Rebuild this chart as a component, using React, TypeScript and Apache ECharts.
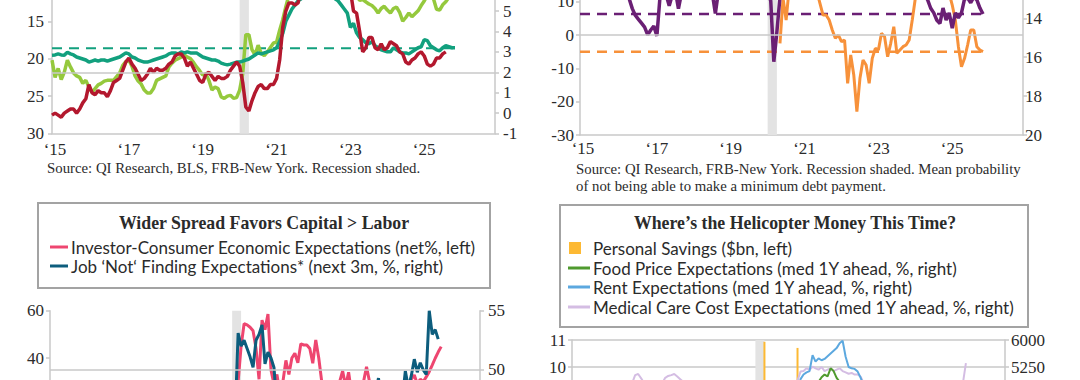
import React, { useEffect, useRef } from "react";
import * as echarts from "echarts";

// ---------- shared ----------
const xTickLabels = ["\u201815", "\u201817", "\u201819", "\u201821", "\u201823", "\u201825"];
const recession = [5.083, 5.333]; // years since Jan 2015 (Feb-Apr 2020)

// visible tick labels of each value axis (the rest of each panel is cropped away)
const p1LeftTicks = [15, 20, 25, 30];
const p1RightTicks = [-1, 0, 1, 2, 3, 4, 5];
const p2LeftTicks = [-30, -20, -10, 0, 10];
const p2RightTicks = [14, 16, 18, 20];
const p3LeftTicks = [40, 60];
const p3RightTicks = [50, 55];
const p4LeftTicks = [10, 11];
const p4RightTicks = [5250, 6000];

// ---------- panel 1 (top-left) ----------
const cpiStart = 0;
const cpiYoY = [
  -0.1, 0.0, -0.1, -0.2, 0.0, 0.1, 0.2, 0.2, 0.0, 0.2, 0.5, 0.7,
  1.4, 1.0, 0.9, 1.1, 1.0, 1.0, 0.8, 1.1, 1.5, 1.6, 1.7, 2.1,
  2.5, 2.7, 2.4, 2.2, 1.9, 1.6, 1.7, 1.9, 2.2, 2.0, 2.2, 2.1,
  2.1, 2.2, 2.4, 2.5, 2.8, 2.9, 2.9, 2.7, 2.3, 2.5, 2.2, 1.9,
  1.6, 1.5, 1.9, 2.0, 1.8, 1.6, 1.8, 1.7, 1.7, 1.8, 2.1, 2.3,
  2.5, 2.3, 1.5, 0.3, 0.1, 0.6, 1.0, 1.3, 1.4, 1.2, 1.2, 1.4,
  1.4, 1.7, 2.6, 4.2, 5.0, 5.4, 5.4, 5.3, 5.4, 6.2, 6.8, 7.0,
  7.5, 7.9, 8.5, 8.3, 8.6, 9.1, 8.5, 8.3, 8.2, 7.7, 7.1, 6.5,
  6.4, 6.0, 5.0, 4.9, 4.0, 3.0, 3.2, 3.7, 3.7, 3.2, 3.1, 3.4,
  3.1, 3.2, 3.5, 3.4, 3.3, 3.0, 2.9, 2.5, 2.4, 2.6, 2.7, 2.9,
  3.0, 2.8, 2.4, 2.3, 2.4, 2.7, 2.7, 2.9, 3.0,
];
const tealStart = 0;
const tealSeries = [
  2.84, 2.85, 2.9, 2.85, 2.84, 2.98, 2.9, 2.85, 2.75, 2.7, 2.65, 2.6,
  2.5, 2.55, 2.6, 2.55, 2.6, 2.6, 2.55, 2.6, 2.65, 2.7, 2.75, 2.85,
  2.95, 2.9, 2.75, 2.7, 2.6, 2.55, 2.5, 2.5, 2.55, 2.6, 2.65, 2.7,
  2.75, 2.8, 2.9, 2.95, 2.95, 2.9, 3.0, 2.95, 3.0, 2.95, 2.95, 2.95,
  2.85, 2.75, 2.7, 2.65, 2.6, 2.6, 2.55, 2.45, 2.4, 2.36, 2.4, 2.45,
  2.5, 2.5, 2.55, 2.6, 2.65, 2.75, 2.85, 2.95, 2.9, 2.95, 3.0, 3.05,
  3.1, 3.2, 3.5, 3.9, 4.5, 4.8, 5.1, 5.3, 5.5, 5.6, 5.9, 6.0,
  6.0, 6.0, 6.6, 6.3, 6.6, 6.8, 6.2, 5.9, 5.6, 5.5, 5.3, 5.1,
  4.9, 4.2, 4.4, 3.93, 3.7, 3.6, 3.45, 3.4, 3.5, 3.3, 3.2, 3.1,
  3.05, 3.0, 3.0, 3.2, 3.1, 3.0, 2.95, 2.95, 2.9, 3.0, 3.1, 3.2,
  3.25, 3.6, 3.55, 3.3, 3.2, 3.1, 3.05, 3.2, 3.3, 3.25, 3.2, 3.2,
];
const greenStart = 0;
const greenSeries = [
  20.2, 22.5, 21.3, 22.8, 21.8, 20.2, 21.1, 21.9, 22.3, 22.5, 23.3, 22.9,
  23.8, 24.5, 24.0, 23.5, 23.3, 23.0, 22.9, 22.9, 22.9, 22.4, 21.9, 20.9,
  20.4, 20.2, 21.0, 22.3, 23.0, 23.4, 24.2, 24.6, 24.6, 24.0, 22.9, 22.7,
  22.5, 22.3, 21.1, 20.6, 20.2, 20.0, 19.8, 19.5, 19.8, 20.0, 20.5, 21.1,
  21.6, 22.2, 22.0, 22.9, 24.2, 23.8, 24.0, 25.1, 25.3, 25.0, 24.9, 25.3,
  25.2, 24.2, 22.0, 16.8, 16.8, 18.8, 19.5, 18.2, 19.3, 19.6, 19.1, 18.5,
  17.9, 17.8, 16.2, 14.8, 13.1, 11.5, 10.2, 9.5, 9.0, 8.6, 8.2, 8.8,
  8.0, 7.5, 7.8, 8.3, 7.6, 8.0, 8.5, 9.0, 8.7, 9.3, 9.8, 10.0,
  10.5, 10.8, 11.2, 11.6, 12.2, 12.1, 12.4, 12.7, 12.9, 13.3, 13.9, 13.3,
  13.0, 13.5, 13.9, 13.3, 13.1, 13.8, 15.0, 14.5, 13.9, 14.4, 14.0, 13.6,
  12.9, 12.3, 11.5, 11.6, 12.0, 13.4, 13.5, 12.8, 12.4, 11.8,
];
const tealAverage = 3.18;
const fedTarget = 2;

// ---------- panel 2 (top-right) ----------
const purpleStart = 0;
const purpleSeries = [
  12.6, 12.8, 12.5, 12.9, 12.7, 12.4, 12.8, 12.6, 12.9, 12.5, 12.7, 12.8,
  12.6, 12.9, 12.7, 12.8, 13.0, 13.5, 13.85, 14.05, 14.25, 14.45, 14.85, 14.6,
  14.4, 14.9, 12.9, 12.7, 12.8, 13.35, 12.8, 12.6, 13.5, 12.7, 12.5, 12.6,
  12.4, 12.7, 12.5, 12.6, 12.3, 12.5, 12.6, 12.7, 13.75, 12.6, 12.4, 12.3,
  12.5, 12.2, 12.4, 12.3, 12.1, 12.4, 12.2, 12.3, 12.0, 12.2, 12.3, 12.1,
  12.4, 12.6, 13.1, 16.23, 14.7, 12.9, 12.2, 11.8, 11.5, 11.6, 11.3, 11.5,
  11.2, 11.0, 10.8, 10.9, 10.6, 10.8, 10.5, 10.7, 10.9, 10.6, 10.8, 11.0,
  10.9, 11.2, 11.0, 11.3, 11.4, 11.2, 11.5, 11.3, 11.6, 11.8, 11.5, 11.7,
  11.9, 11.6, 11.8, 12.0, 11.9, 12.1, 12.3, 12.0, 12.2, 12.4, 12.3, 12.5,
  12.7, 12.5, 12.7, 12.9, 12.8, 13.05, 13.48, 13.72, 14.1, 14.26, 13.47, 14.09,
  13.72, 14.51, 13.72, 13.98, 13.72, 13.0, 12.95, 13.2, 12.9, 13.05, 13.47, 13.78,
];
const orangeStart = 65;
const orangeSeries = [
  -2.5, 11, 4.5, 14, 16, 15, 17, 18, 16, 19, 17, 15, 13,
  9.5, 6, 6, 4.5, 1.5, -1, 0, -2, -1.5, -14.5, -6, -12,
  -23, -13, -7.5, -9, -14.5, -7, -4, -4.5, 0.5, -0.5, -6.5, -2.5,
  2.5, -5.5, -4.5, -3.5, -3, -1.5, 4.5, 11, 14, 13, 15, 16,
  14, 17, 15, 16, 14, 13, 12.5, 9, 4.5, -3.5, -9.5, -7, -3,
  1.5, 1.5, -3.5, -4.5, -5,
];
const purpleAverage = 13.78;
const orangeAverage = -5.0;

// ---------- panel 3 (bottom-left) ----------
const pinkStart = 63;
const pinkSeries = [
  30, 45, 54.5, 54, 53, 51.5, 44, 31, 56, 52, 58.6, 35, 29,
  33, 25, 30, 39, 33, 40, 42, 38, 46, 45.5, 45.5, 44, 37.8,
  47.6, 40, 30, 22, 18, 22, 24, 26, 30, 34.5, 28, 34, 25,
  28, 24, 26, 30, 36.3, 30, 25, 22, 20, 24, 26, 22, 25,
  27, 24, 26, 28, 27, 28, 31, 32.8, 29, 31, 30, 32, 34.2,
  37, 39.9, 42.5, 44.8,
];
const jobStart = 62;
const jobSeries = [
  46, 53.1, 52.0, 52.5, 51.8, 51.1, 50.2, 52.5, 53.0, 53.8, 50.5, 51.5,
  51.0, 50.2, 47, 46, 47, 45.5, 46, 45, 44.5, 45, 44, 45,
  44.5, 44, 45, 44.5, 45, 44, 44.5, 45, 44, 45.5, 45, 46,
  45.5, 46, 45, 46.5, 46, 47, 46.5, 47, 46, 47.5, 47, 48,
  49.3, 47.5, 48, 47, 48, 47.5, 48.5, 48, 47.5, 49.9, 48.5, 49.5,
  50.9, 49.8, 50.6, 50.0, 49.6, 55.0, 53.0, 53.4, 52.6,
];
const jobRefLine = 50;

// ---------- panel 4 (bottom-right) ----------
const savingsStart = 0;
const savingsSeries = [
  900, 920, 880, 910, 930, 900, 920, 940, 910, 930, 950, 960,
  980, 960, 950, 940, 920, 910, 900, 890, 880, 870, 880, 900,
  920, 940, 960, 950, 940, 930, 920, 910, 900, 920, 940, 950,
  1100, 1150, 1120, 1130, 1150, 1160, 1180, 1170, 1150, 1160, 1180, 1220,
  1250, 1260, 1280, 1230, 1240, 1250, 1220, 1200, 1230, 1250, 1270, 1300,
  1350, 1450, 2300, 5950, 4400, 3600, 3300, 2700, 2500, 2300, 2200, 2500,
  3900, 2500, 5780, 2700, 2300, 2000, 2100, 1800, 1600, 1400, 1500, 1300,
  900, 850, 800, 750, 700, 650, 680, 700, 650, 620, 650, 700,
  900, 920, 950, 970, 950, 900, 880, 850, 800, 850, 870, 880,
  900, 920, 880, 850, 870, 900, 920, 950, 970, 1000, 1020, 1010,
  1030, 1050, 1080, 1060, 1040, 1020, 1000, 990, 1000,
];
const foodStart = 0;
const foodSeries = [
  5.0, 4.9, 5.1, 5.2, 5.0, 4.8, 5.1, 5.0, 4.9, 5.2, 5.0, 5.1,
  5.0, 4.8, 4.9, 5.1, 5.0, 4.9, 5.2, 5.0, 4.8, 5.0, 5.1, 4.9,
  5.1, 5.0, 4.9, 5.2, 5.0, 5.1, 4.9, 5.0, 5.2, 5.1, 4.9, 5.0,
  5.2, 5.1, 5.0, 5.3, 5.1, 5.0, 5.2, 5.1, 5.0, 5.1, 5.2, 5.0,
  5.1, 5.0, 4.9, 5.1, 5.0, 5.2, 5.1, 5.0, 4.9, 5.1, 5.0, 5.1,
  5.0, 5.2, 5.6, 6.3, 6.0, 5.8, 5.7, 5.6, 5.8, 5.9, 6.0, 6.2,
  6.5, 6.8, 7.2, 7.8, 8.2, 8.6, 8.8, 9.0, 9.1, 9.3, 9.45, 9.62,
  9.72, 9.65, 9.95, 9.85, 9.6, 9.45, 9.2, 9.0, 8.7, 8.5, 8.2, 8.0,
  7.8, 7.6, 7.4, 7.2, 7.0, 6.9, 6.8, 6.6, 6.5, 6.4, 6.3, 6.2,
  6.1, 6.0, 6.1, 5.9, 6.0, 5.8, 5.9, 6.0, 5.8, 5.9, 6.0, 5.8,
  5.9, 6.1, 6.0, 6.2, 6.1, 6.3, 6.2, 6.4, 6.3, 6.5, 6.4, 6.6,
];
const rentStart = 0;
const rentSeries = [
  6.8, 7.0, 6.9, 7.2, 7.1, 6.9, 7.0, 7.3, 7.1, 7.0, 7.2, 7.1,
  7.0, 7.2, 7.1, 7.3, 7.0, 6.9, 7.1, 7.2, 7.0, 7.1, 7.3, 7.2,
  7.1, 7.0, 7.2, 7.3, 7.1, 7.0, 7.2, 7.4, 7.1, 7.2, 7.0, 7.1,
  7.3, 7.2, 7.0, 7.1, 7.2, 7.0, 6.9, 7.1, 7.0, 6.8, 7.0, 6.9,
  7.0, 6.8, 6.9, 7.0, 6.7, 6.9, 6.8, 7.0, 6.9, 6.7, 6.8, 6.9,
  6.8, 6.9, 6.7, 6.5, 6.8, 7.0, 7.1, 7.3, 7.5, 7.6, 7.8, 8.0,
  8.2, 8.4, 8.6, 8.9, 9.55, 9.72, 9.8, 9.85, 10.44, 10.2, 10.32, 10.25,
  10.3, 10.4, 10.5, 10.6, 10.7, 10.88, 10.97, 10.38, 10.0, 9.95, 9.93, 9.83,
  9.6, 9.3, 9.0, 8.9, 9.1, 8.8, 8.9, 8.7, 8.8, 8.6, 8.7, 8.8,
  8.5, 8.6, 8.7, 8.5, 8.6, 8.4, 8.5, 8.6, 8.4, 8.5, 8.3, 8.5,
  8.4, 8.6, 8.5, 8.3, 8.4, 8.5, 8.6, 8.4, 8.5, 8.7, 8.6, 8.8,
];
const medicalStart = 0;
const medicalSeries = [
  9.0, 9.2, 8.9, 9.1, 9.3, 9.0, 8.8, 9.1, 9.2, 8.9, 9.0, 9.3,
  9.1, 8.9, 9.2, 9.0, 9.1, 9.3, 9.2, 9.0, 9.4, 9.7, 9.74, 9.58,
  9.4, 9.3, 9.2, 9.35, 9.3, 9.45, 9.4, 9.6, 9.67, 9.7, 9.74, 9.65,
  9.55, 9.45, 9.3, 9.2, 9.1, 9.3, 9.0, 9.2, 9.1, 8.9, 9.0, 9.2,
  8.9, 9.1, 9.0, 8.8, 9.0, 8.9, 9.1, 8.8, 8.9, 9.0, 8.8, 8.9,
  9.0, 8.8, 8.7, 8.9, 9.0, 8.8, 9.0, 9.1, 8.9, 9.2, 9.0, 9.1,
  9.2, 9.3, 9.4, 9.5, 9.83, 9.85, 9.95, 9.9, 10.01, 9.95, 9.9, 10.0,
  9.85, 9.9, 9.95, 9.85, 9.9, 9.95, 9.85, 9.8, 9.75, 9.78, 9.72, 9.72,
  9.64, 9.4, 9.3, 9.2, 9.1, 9.2, 9.0, 9.1, 8.9, 9.0, 9.1, 8.9,
  9.0, 8.8, 8.9, 9.0, 8.8, 8.9, 9.0, 9.1, 8.9, 9.0, 9.1, 8.9,
  9.0, 9.1, 9.2, 9.0, 9.1, 9.2, 9.0, 9.1, 9.2, 9.3, 9.4, 10.14,
];

// ---------- texts ----------
const sourceTopLeft = "Source: QI Research, BLS, FRB-New York. Recession shaded.";
const sourceTopRight1 = "Source: QI Research, FRB-New York. Recession shaded. Mean probability";
const sourceTopRight2 = "of not being able to make a minimum debt payment.";
const titleBottomLeft = "Wider Spread Favors Capital > Labor";
const legendBottomLeft = [
  "Investor-Consumer Economic Expectations (net%, left)",
  "Job \u2018Not\u2018 Finding Expectations* (next 3m, %, right)",
];
const titleBottomRight = "Where\u2019s the Helicopter Money This Time?";
const legendBottomRight = [
  "Personal Savings ($bn, left)",
  "Food Price Expectations (med 1Y ahead, %, right)",
  "Rent Expectations (med 1Y ahead, %, right)",
  "Medical Care Cost Expectations (med 1Y ahead, %, right)",
];

// ---------- colors ----------
const C = {
  red: "#b3182e",
  lime: "#95c93d",
  teal: "#12a07e",
  purple: "#6a1f74",
  orange: "#f7913a",
  pink: "#ee4670",
  navy: "#0d5d7d",
  gold: "#fdb933",
  green: "#4f9a2e",
  blue: "#5ca8df",
  lilac: "#d4bde3",
  axis: "#c9c9c9",
  text: "#2b2b2b",
};

const SERIF = '"Liberation Serif", "Times New Roman", serif';
const SANS = 'Lato, "Noto Sans", sans-serif';

const toPairs = (start: number, vals: number[], offset = 0) =>
  vals.map((v, i) => [(start + i + offset) / 12, v]);

function xAxisFor(gridIndex: number, show: boolean, margin: number) {
  return {
    type: "value",
    gridIndex,
    min: 0,
    max: 12,
    interval: 2,
    show,
    axisLine: { show: true, onZero: false, lineStyle: { color: C.axis, width: 1.5 } },
    axisTick: { show: false },
    splitLine: { show: false },
    axisLabel: {
      show: true,
      margin,
      color: C.text,
      fontFamily: SERIF,
      fontSize: 17,
      padding: [0, 0, 0, 6],
      formatter: (v: number) => xTickLabels[Math.round(v / 2)] ?? "",
    },
  };
}

function yAxisFor(
  gridIndex: number,
  position: "left" | "right",
  min: number,
  max: number,
  interval: number,
  labels: number[],
  opts: { inverse?: boolean; margin?: number; split?: boolean } = {}
) {
  return {
    type: "value",
    gridIndex,
    position,
    min,
    max,
    interval,
    inverse: !!opts.inverse,
    axisLine: { show: true, onZero: false, lineStyle: { color: C.axis, width: 1.5 } },
    axisTick: { show: true, length: 4, lineStyle: { color: C.axis, width: 1.5 } },
    splitLine: { show: !!opts.split, lineStyle: { color: C.axis, width: 1.5 } },
    axisLabel: {
      color: C.text,
      fontFamily: SERIF,
      fontSize: 17,
      margin: opts.margin ?? 6,
      formatter: (v: number) => (labels.some((l) => Math.abs(l - v) < 1e-6) ? String(v) : ""),
    },
  };
}

const recessionArea = {
  silent: true,
  itemStyle: { color: "#e3e3e3" },
  data: [[{ xAxis: recession[0] }, { xAxis: recession[1] }]],
};

function refLine(value: number) {
  return {
    silent: true,
    symbol: "none",
    label: { show: false },
    lineStyle: { color: C.axis, width: 1.5, type: "solid" },
    data: [{ yAxis: value }],
  };
}

function line(name: string, x: number, y: number, data: any[], color: string, width: number, extra: any = {}) {
  return {
    name,
    type: "line",
    xAxisIndex: x,
    yAxisIndex: y,
    data,
    showSymbol: false,
    symbol: "none",
    lineStyle: { color, width },
    itemStyle: { color },
    ...extra,
  };
}

function dashed(name: string, x: number, y: number, level: number, endMonth: number, color: string, width: number, extra: any = {}) {
  return line(name, x, y, [[0, level], [endMonth / 12, level]], color, width, {
    lineStyle: { color, width, type: [10, 7] },
    ...extra,
  });
}

function text(x: number, y: number, t: string, font: string, align = "left") {
  return {
    type: "text",
    x,
    y,
    silent: true,
    style: {
      text: t,
      font,
      fill: C.text,
      align,
      textAlign: align,
      verticalAlign: "middle",
      textVerticalAlign: "middle",
    },
  };
}

function hline(x1: number, x2: number, y: number, color: string, width: number) {
  return {
    type: "line",
    silent: true,
    shape: { x1, y1: y, x2, y2: y },
    style: { stroke: color, lineWidth: width },
  };
}

const gridBase = { containLabel: false, outerBoundsMode: "none" };

export default function App() {
  const ref = useRef<HTMLDivElement>(null);

  useEffect(() => {
    if (!ref.current) return;
    const chart = echarts.init(ref.current, null, { renderer: "svg" });

    const legendFont = `17px ${SANS}`;
    const titleFont = `bold 17.8px ${SERIF}`;
    const sourceFont = `14.8px ${SERIF}`;

    const option: any = {
      animation: false,
      backgroundColor: "#ffffff",
      grid: [
        { ...gridBase, left: 52, top: -91, width: 443, height: 224.5 },
        { ...gridBase, left: 580, top: -98.3, width: 443, height: 233.3 },
        { ...gridBase, left: 50, top: 310.7, width: 430, height: 236.5 },
        { ...gridBase, left: 572, top: 340, width: 433, height: 216 },
      ],
      xAxis: [
        xAxisFor(0, true, 7),
        xAxisFor(1, true, 5),
        xAxisFor(2, false, 6),
        xAxisFor(3, false, 6),
      ],
      yAxis: [
        yAxisFor(0, "left", 0, 30, 5, p1LeftTicks, { inverse: true, margin: 8 }),
        yAxisFor(0, "right", -1, 10, 1, p1RightTicks, { margin: 8 }),
        yAxisFor(1, "left", -30, 40, 10, p2LeftTicks, { margin: 6 }),
        yAxisFor(1, "right", 8, 20, 2, p2RightTicks, { inverse: true, margin: 2 }),
        yAxisFor(2, "left", -40, 60, 20, p3LeftTicks, { margin: 6 }),
        yAxisFor(2, "right", 35, 55, 5, p3RightTicks, { margin: 8 }),
        yAxisFor(3, "left", 3, 11, 1, p4LeftTicks, { margin: 6, split: true }),
        yAxisFor(3, "right", 0, 6000, 750, p4RightTicks, { margin: 6 }),
      ],
      series: [
        // panel 1
        dashed("Teal average", 0, 1, tealAverage, 131, C.teal, 2, {
          markArea: recessionArea,
          markLine: refLine(fedTarget),
        }),
        line("Light green (left, inverted)", 0, 0, toPairs(greenStart, greenSeries), C.lime, 3.5),
        line("Teal (right)", 0, 1, toPairs(tealStart, tealSeries), C.teal, 3.5),
        line("CPI (right)", 0, 1, toPairs(cpiStart, cpiYoY), C.red, 3.5),
        // panel 2
        dashed("Orange average", 1, 2, orangeAverage, 131, C.orange, 2.5, {
          markArea: recessionArea,
          markLine: refLine(0),
        }),
        dashed("Purple average", 1, 3, purpleAverage, 131, C.purple, 2.5),
        line("Orange (left)", 1, 2, toPairs(orangeStart, orangeSeries), C.orange, 3),
        line("Debt payment probability (right, inverted)", 1, 3, toPairs(purpleStart, purpleSeries), C.purple, 3.5),
        // panel 3
        line("ref3", 2, 5, [], C.axis, 1, { markArea: recessionArea, markLine: refLine(jobRefLine) }),
        line(legendBottomLeft[0], 2, 4, toPairs(pinkStart, pinkSeries), C.pink, 3),
        line(legendBottomLeft[1], 2, 5, toPairs(jobStart, jobSeries), C.navy, 3),
        // panel 4
        line("ref4", 3, 6, [], C.axis, 1, { markArea: recessionArea }),
        {
          name: legendBottomRight[0],
          type: "bar",
          xAxisIndex: 3,
          yAxisIndex: 7,
          barWidth: 2,
          data: toPairs(savingsStart, savingsSeries, 1),
          itemStyle: { color: C.gold },
        },
        line(legendBottomRight[3], 3, 6, toPairs(medicalStart, medicalSeries), C.lilac, 2),
        line(legendBottomRight[1], 3, 6, toPairs(foodStart, foodSeries), C.green, 2),
        line(legendBottomRight[2], 3, 6, toPairs(rentStart, rentSeries), C.blue, 2),
      ],
      graphic: [
        text(47, 168, sourceTopLeft, sourceFont),
        text(576, 169, sourceTopRight1, sourceFont),
        text(576, 186, sourceTopRight2, sourceFont),
        // bottom-left legend box
        {
          type: "rect",
          silent: true,
          shape: { x: 38, y: 203, width: 452, height: 85 },
          style: { fill: "#ffffff", stroke: "#a3a3a3", lineWidth: 2 },
        },
        text(264, 223, titleBottomLeft, titleFont, "center"),
        hline(50, 68, 247, C.pink, 3),
        text(71, 247, legendBottomLeft[0], legendFont),
        hline(50, 68, 266, C.navy, 3),
        text(71, 266, legendBottomLeft[1], legendFont),
        // bottom-right legend box
        {
          type: "rect",
          silent: true,
          shape: { x: 560, y: 205, width: 468, height: 122 },
          style: { fill: "#ffffff", stroke: "#a3a3a3", lineWidth: 2 },
        },
        text(795, 223, titleBottomRight, titleFont, "center"),
        {
          type: "rect",
          silent: true,
          shape: { x: 569, y: 242, width: 12, height: 12 },
          style: { fill: C.gold },
        },
        text(593, 248, legendBottomRight[0], legendFont),
        hline(568, 590, 268, C.green, 3),
        text(593, 268, legendBottomRight[1], legendFont),
        hline(568, 590, 287, C.blue, 3),
        text(593, 287, legendBottomRight[2], legendFont),
        hline(568, 590, 307, C.lilac, 3),
        text(593, 307, legendBottomRight[3], legendFont),
      ],
    };

    chart.setOption(option);
    return () => chart.dispose();
  }, []);

  return (
    <div
      ref={ref}
      style={{ position: "absolute", left: 0, top: 0, width: 1080, height: 380, background: "#fff" }}
    />
  );
}
